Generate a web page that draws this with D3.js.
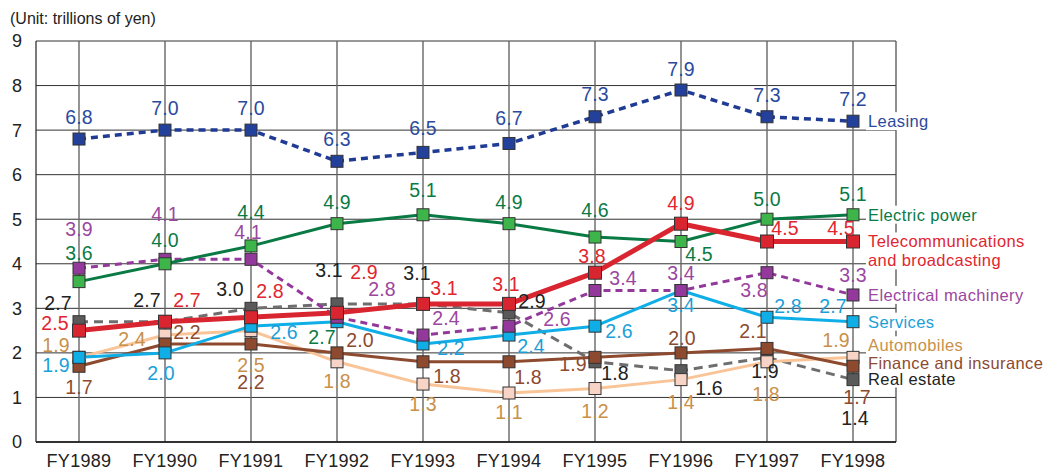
<!DOCTYPE html>
<html>
<head>
<meta charset="utf-8"/>
<script src="https://d3js.org/d3.v7.min.js"></script>
<style>
	body { margin: 0; background: #fff; }
	svg { display: block; font-family: "Liberation Sans", Arial, sans-serif; }
	.grid line { stroke: #333; stroke-width: 1; }
	.vgrid line { stroke: #666; stroke-width: 1.4; }
</style>
</head>
<body>
<svg id="chart" width="1055" height="470"></svg>
<script>
// fiscal years on the x axis
var years = ["FY1989","FY1990","FY1991","FY1992","FY1993","FY1994","FY1995","FY1996","FY1997","FY1998"];
var yTicks = [0,1,2,3,4,5,6,7,8,9];

// trillions of yen
var leasing = [6.8,7.0,7.0,6.3,6.5,6.7,7.3,7.9,7.3,7.2];
var electricPower = [3.6,4.0,4.4,4.9,5.1,4.9,4.6,4.5,5.0,5.1];
var telecom = [2.5,2.7,2.8,2.9,3.1,3.1,3.8,4.9,4.5,4.5];
var electricalMachinery = [3.9,4.1,4.1,2.8,2.4,2.6,3.4,3.4,3.8,3.3];
var services = [1.9,2.0,2.6,2.7,2.2,2.4,2.6,3.4,2.8,2.7];
var automobiles = [1.9,2.4,2.5,1.8,1.3,1.1,1.2,1.4,1.8,1.9];
var finance = [1.7,2.2,2.2,2.0,1.8,1.8,1.9,2.0,2.1,1.7];
var realEstate = [2.7,2.7,3.0,3.1,3.1,2.9,1.8,1.6,1.9,1.4];

// drawing order: bottom first
var series = [
	{name: ["Real estate"], values: realEstate, line: "#6e6e6e", fill: "#5a5a5a", text: "#222", dash: "9,6", w: 3, size: 12, legendDy: -1},
	{name: ["Automobiles"], values: automobiles, line: "#f9c598", fill: "#f8d4c6", text: "#c9904a", w: 3, size: 12, legendDy: -12},
	{name: ["Finance and insurance"], values: finance, line: "#8d4a2f", fill: "#8d4a2f", text: "#8d4a2f", w: 3, size: 12, legendDy: -3},
	{name: ["Services"], values: services, line: "#10aee6", fill: "#10aee6", text: "#1a9fd9", w: 3, size: 12, legendDy: 0},
	{name: ["Electrical machinery"], values: electricalMachinery, line: "#93399b", fill: "#93399b", text: "#9b47a0", dash: "7,5", w: 3, size: 12, legendDy: 0},
	{name: ["Electric power"], values: electricPower, line: "#0a7a45", fill: "#3db54a", text: "#0b7a45", w: 3, size: 12, legendDy: 0},
	{name: ["Telecommunications", "and broadcasting"], values: telecom, line: "#d9252f", fill: "#d9252f", text: "#e0262f", w: 5, size: 13, legendDy: 0},
	{name: ["Leasing"], values: leasing, line: "#1f3b94", fill: "#23409a", text: "#2b4a9e", dash: "7,5", w: 3.5, size: 12, legendDy: 0}
];

// hand placed value labels (centre offset from the point)
var nudge = {
	"Leasing": [[0,-22],[0,-22],[0,-22],[0,-22],[0,-24],[0,-25],[0,-23],[0,-21],[0,-22],[0,-22]],
	"Electric power": [[0,-29],[0,-24],[0,-34],[0,-22],[0,-25],[0,-22],[0,-27],[18,12],[0,-20],[0,-21]],
	"Telecommunications": [[-24,-8],[22,-22],[19,-26],[27,-41],[21,-16],[-3,-20],[-3,-17],[0,-21],[18,-14],[-12,-14]],
	"Electrical machinery": [[0,-39],[0,-45],[-3,-27],[45,-28],[23,-17],[48,-7],[28,-13],[0,-18],[-13,17],[0,-20]],
	"Services": [[-23,8],[-4,20],[33,6],[-15,15],[28,4],[22,11],[24,5],[0,14],[21,-11],[-20,-16]],
	"Automobiles": [[-23,-12],[-33,4],[0,34],[0,19],[0,20],[0,19],[0,22],[0,22],[-1,32],[-17,-17]],
	"Finance and insurance": [[0,21],[22,-12],[0,38],[23,-13],[24,14],[19,15],[-22,7],[1,-15],[-14,-17],[4,31]],
	"Real estate": [[-21,-19],[-18,-22],[-21,-19],[-8,-34],[-6,-31],[23,-12],[20,11],[28,17],[-2,14],[2,38]]
};
// the FY1992 services label is green in the original
var labelColor = {"Services-3": "#0b7a45"};

var svg = d3.select("#chart");
var plotL = 36, plotR = 896, plotT = 41, plotB = 442;

var x = d3.scalePoint().domain(years).range([plotL, plotR]).padding(0.5);
var y = d3.scaleLinear().domain([0, 9]).range([plotB, plotT]);

// grid
svg.append("g").attr("class", "grid")
	.selectAll("line").data(yTicks).join("line")
	.attr("x1", plotL).attr("x2", plotR)
	.attr("y1", d => y(d)).attr("y2", d => y(d));
svg.append("g").attr("class", "vgrid")
	.selectAll("line").data(years).join("line")
	.attr("x1", d => x(d)).attr("x2", d => x(d))
	.attr("y1", plotT).attr("y2", plotB);
svg.append("line").attr("x1", plotL).attr("x2", plotL).attr("y1", plotT).attr("y2", plotB)
	.style("stroke", "#222").style("stroke-width", 1.2);
svg.append("line").attr("x1", plotR).attr("x2", plotR).attr("y1", plotT).attr("y2", plotB)
	.style("stroke", "#444").style("stroke-width", 1.2);
svg.append("line").attr("x1", plotL).attr("x2", plotR).attr("y1", plotB).attr("y2", plotB)
	.style("stroke", "#111").style("stroke-width", 1.4);

// axis labels
svg.append("g").selectAll("text").data(yTicks).join("text")
	.attr("x", 17).attr("y", d => y(d)).attr("dy", "0.36em")
	.attr("text-anchor", "middle").style("font-size", "18px").style("fill", "#222")
	.text(d => d);
svg.append("g").selectAll("text").data(years).join("text")
	.attr("x", d => x(d)).attr("y", 467)
	.attr("text-anchor", "middle").style("font-size", "18px").style("letter-spacing", "0.3px").style("fill", "#222")
	.text(d => d);
svg.append("text").attr("x", 10).attr("y", 24)
	.style("font-size", "16px").style("fill", "#222")
	.text("(Unit: trillions of yen)");

var line = d3.line().x((d, i) => x(years[i])).y(d => y(d));

// lines, markers
series.forEach(function(s) {
	var g = svg.append("g");
	g.append("path").attr("d", line(s.values))
		.style("fill", "none").style("stroke", s.line).style("stroke-width", s.w)
		.style("stroke-dasharray", s.dash || null).style("stroke-linejoin", "round");
	g.selectAll("rect").data(s.values).join("rect")
		.attr("x", (d, i) => x(years[i]) - s.size / 2)
		.attr("y", d => y(d) - s.size / 2)
		.attr("width", s.size).attr("height", s.size)
		.style("fill", s.fill).style("stroke", "#333").style("stroke-width", 1);
});

// value labels
series.forEach(function(s) {
	var off = nudge[s.name[0]];
	svg.append("g").selectAll("text").data(s.values).join("text")
		.attr("x", (d, i) => x(years[i]) + off[i][0])
		.attr("y", (d, i) => y(d) + off[i][1])
		.attr("dy", "0.36em").attr("text-anchor", "middle")
		.style("font-size", "19.5px").style("letter-spacing", "0.2px")
		.style("fill", (d, i) => labelColor[s.name[0] + "-" + i] || s.text)
		.text(d => d.toFixed(1));
});

// series names at the right end
series.forEach(function(s) {
	var last = s.values[s.values.length - 1];
	var cy = y(last) + s.legendDy;
	var g = svg.append("g");
	var t = g.append("text").attr("x", 868).attr("y", cy)
		.style("font-size", "16.5px").style("letter-spacing", "0.4px").style("fill", s.text);
	t.selectAll("tspan").data(s.name).join("tspan")
		.attr("x", 868).attr("dy", (d, i) => i ? "19px" : "0.36em").text(d => d);
	var bb = t.node().getBBox();
	g.insert("rect", "text").attr("x", bb.x - 2).attr("y", bb.y)
		.attr("width", bb.width + 4).attr("height", bb.height).style("fill", "#fff");
});
</script>
</body>
</html>
